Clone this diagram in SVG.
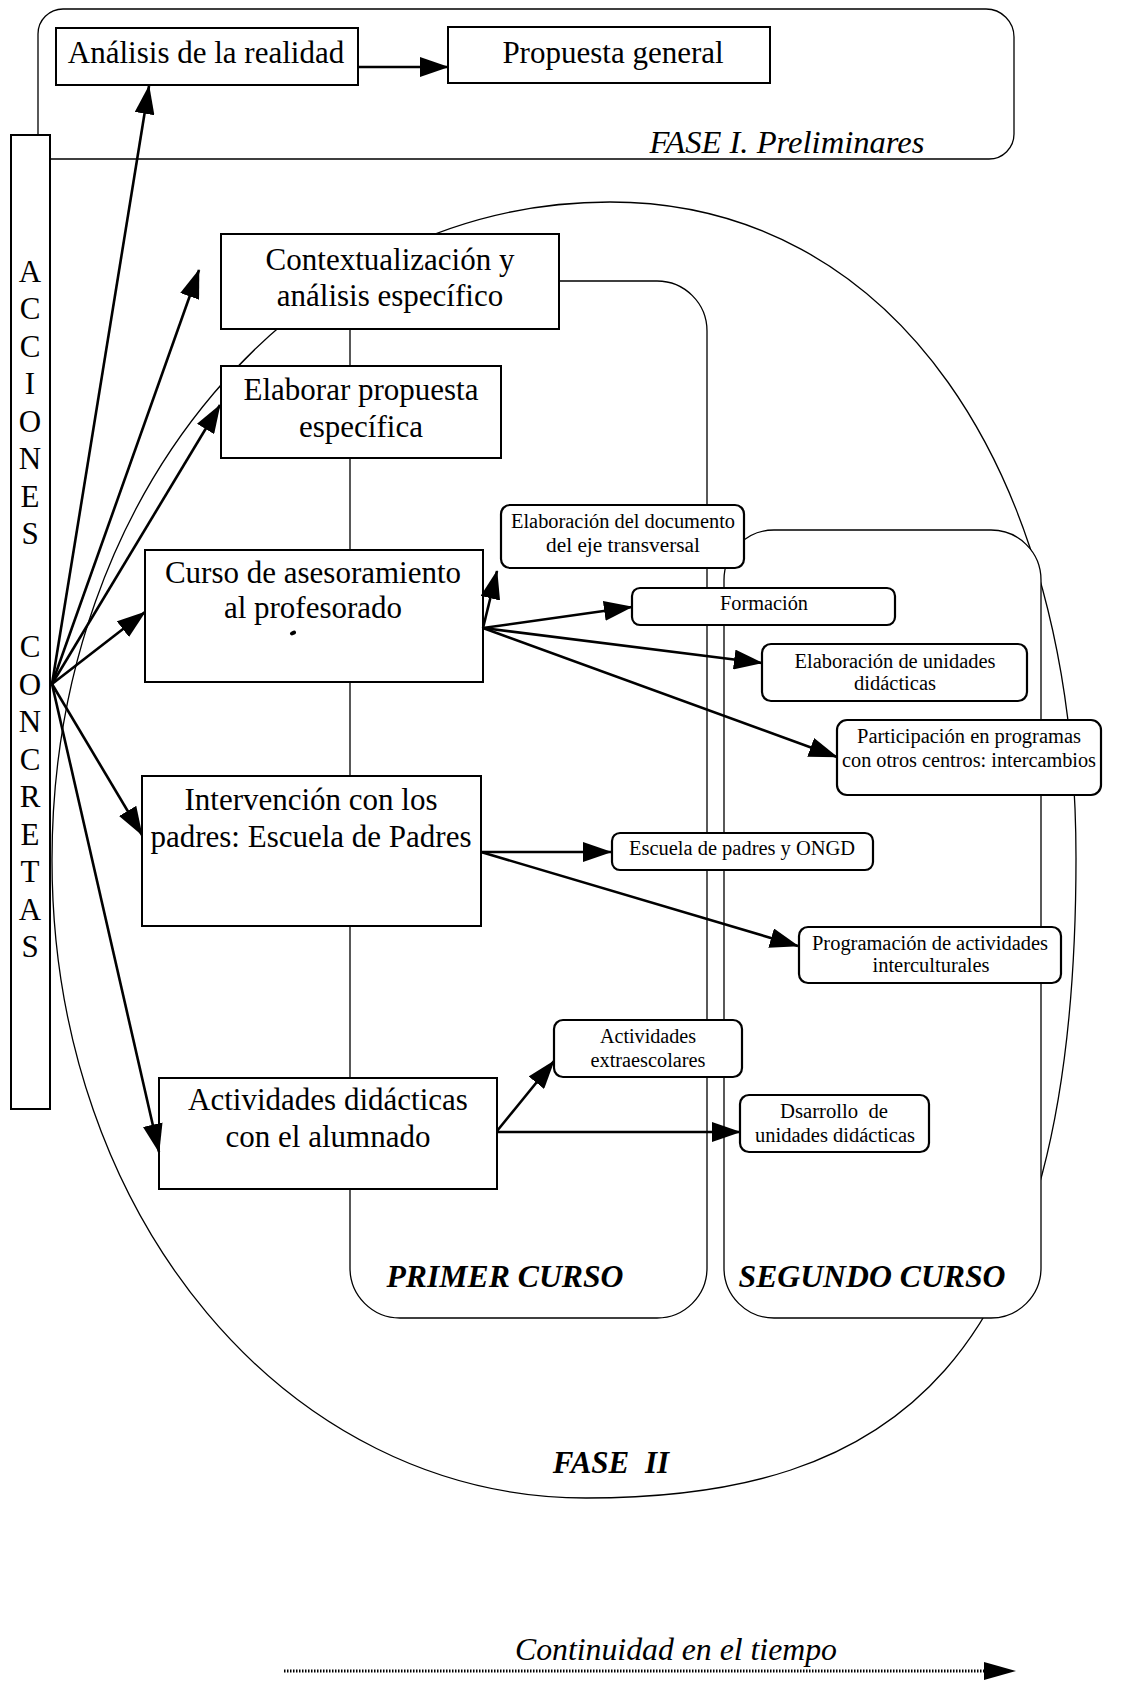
<svg xmlns="http://www.w3.org/2000/svg" width="1144" height="1683" viewBox="0 0 1144 1683">
  <defs>
    <style>
      text { font-family: "Liberation Serif", "Times New Roman", serif; fill: #000; }
      .big { font-size: 31px; text-anchor: middle; }
      .sm { font-size: 20px; text-anchor: middle; }
      .let { font-size: 31px; text-anchor: middle; }
      .it { font-style: italic; }
      .bi { font-style: italic; font-weight: bold; }
      .box { fill: #fff; stroke: #000; stroke-width: 2; }
      .rbox { fill: #fff; stroke: #000; stroke-width: 2.2; }
      .thin { fill: none; stroke: #000; stroke-width: 1.3; }
      .paper { fill: #fff; }
      .arr { stroke: #000; stroke-width: 2.6; fill: none; marker-end: url(#ah); }
    </style>
    <marker id="ah" markerUnits="userSpaceOnUse" markerWidth="29" markerHeight="20" refX="28" refY="10" orient="auto">
      <path d="M0,0 L29,10 L0,20 z" fill="#000"/>
    </marker>
  </defs>

  <rect width="1144" height="1683" fill="#fff"/>

  <!-- Phase I frame (left-bottom corner tucked behind the side bar) -->
  <g id="fase1">
    <path class="thin" d="M50,159 L989,159 A25,25 0 0 0 1014,134 L1014,37 A28,28 0 0 0 986,9 L63,9 A25,25 0 0 0 38,34 L38,136"/>
    <text class="big it" x="787" y="153" textLength="275" lengthAdjust="spacingAndGlyphs">FASE I. Preliminares</text>
  </g>

  <!-- Phase II outline -->
  <g id="fase2">
    <path class="thin" d="M52,860 C52,492 298,202 610,202 C890,202 1076,464 1076,858 C1076,1370 890,1498 586,1498 C287,1498 52,1217 52,860 Z"/>
    <text class="big bi" x="611" y="1473" word-spacing="8">FASE II</text>
  </g>

  <!-- Course columns -->
  <g id="primer-curso">
    <rect class="thin" x="350" y="281" width="357" height="1037" rx="50" ry="50"/>
    <text class="big bi" x="505" y="1287" textLength="237" lengthAdjust="spacingAndGlyphs">PRIMER CURSO</text>
  </g>
  <g id="segundo-curso">
    <rect class="thin paper" x="724" y="530" width="317" height="788" rx="50" ry="50"/>
    <text class="big bi" x="872" y="1287" textLength="267" lengthAdjust="spacingAndGlyphs">SEGUNDO CURSO</text>
  </g>

  <!-- Phase I nodes -->
  <g id="analisis">
    <rect class="box" x="56" y="28" width="302" height="57"/>
    <text class="big" x="206" y="63">Análisis de la realidad</text>
  </g>
  <g id="propuesta-general">
    <rect class="box" x="448" y="27" width="322" height="56"/>
    <text class="big" x="613" y="63">Propuesta general</text>
  </g>

  <!-- Phase II main actions -->
  <g id="contextualizacion">
    <rect class="box" x="221" y="234" width="338" height="95"/>
    <text class="big" x="390" y="270">Contextualización y</text>
    <text class="big" x="390" y="306">análisis específico</text>
  </g>
  <g id="elaborar">
    <rect class="box" x="221" y="366" width="280" height="92"/>
    <text class="big" x="361" y="400">Elaborar propuesta</text>
    <text class="big" x="361" y="437">específica</text>
  </g>
  <g id="curso">
    <rect class="box" x="145" y="550" width="338" height="132"/>
    <text class="big" x="313" y="583">Curso de asesoramiento</text>
    <text class="big" x="313" y="618">al profesorado</text>
    <ellipse cx="293" cy="633" rx="3.2" ry="2" transform="rotate(-25 293 633)" fill="#000"/>
  </g>
  <g id="intervencion">
    <rect class="box" x="142" y="776" width="339" height="150"/>
    <text class="big" x="311" y="810">Intervención con los</text>
    <text class="big" x="311" y="847">padres: Escuela de Padres</text>
  </g>
  <g id="actividades">
    <rect class="box" x="159" y="1078" width="338" height="111"/>
    <text class="big" x="328" y="1110">Actividades didácticas</text>
    <text class="big" x="328" y="1147">con el alumnado</text>
  </g>

  <!-- Concrete tasks -->
  <g id="doc-eje">
    <rect class="rbox" x="501" y="505" width="243" height="63" rx="9"/>
    <text class="sm" x="623" y="528" textLength="224" lengthAdjust="spacingAndGlyphs">Elaboración del documento</text>
    <text class="sm" x="623" y="552" textLength="154" lengthAdjust="spacingAndGlyphs">del eje transversal</text>
  </g>
  <g id="formacion">
    <rect class="rbox" x="632" y="588" width="263" height="37" rx="8"/>
    <text class="sm" x="764" y="610" textLength="88" lengthAdjust="spacingAndGlyphs">Formación</text>
  </g>
  <g id="elab-unidades">
    <rect class="rbox" x="762" y="644" width="265" height="57" rx="9"/>
    <text class="sm" x="895" y="668" textLength="201" lengthAdjust="spacingAndGlyphs">Elaboración de unidades</text>
    <text class="sm" x="895" y="690" textLength="82" lengthAdjust="spacingAndGlyphs">didácticas</text>
  </g>
  <g id="participacion">
    <rect class="rbox" x="837" y="720" width="264" height="75" rx="10"/>
    <text class="sm" x="969" y="743" textLength="224" lengthAdjust="spacingAndGlyphs">Participación en programas</text>
    <text class="sm" x="969" y="767" textLength="254" lengthAdjust="spacingAndGlyphs">con otros centros: intercambios</text>
  </g>
  <g id="escuela-padres">
    <rect class="rbox" x="612" y="833" width="261" height="37" rx="8"/>
    <text class="sm" x="742" y="855" textLength="226" lengthAdjust="spacingAndGlyphs">Escuela de padres y ONGD</text>
  </g>
  <g id="programacion">
    <rect class="rbox" x="799" y="927" width="262" height="56" rx="9"/>
    <text class="sm" x="930" y="950" textLength="236" lengthAdjust="spacingAndGlyphs">Programación de actividades</text>
    <text class="sm" x="931" y="972" textLength="117" lengthAdjust="spacingAndGlyphs">interculturales</text>
  </g>
  <g id="extraescolares">
    <rect class="rbox" x="554" y="1020" width="188" height="57" rx="9"/>
    <text class="sm" x="648" y="1043" textLength="96" lengthAdjust="spacingAndGlyphs">Actividades</text>
    <text class="sm" x="648" y="1067" textLength="115" lengthAdjust="spacingAndGlyphs">extraescolares</text>
  </g>
  <g id="desarrollo">
    <rect class="rbox" x="740" y="1095" width="189" height="57" rx="9"/>
    <text class="sm" x="834" y="1118" textLength="108" lengthAdjust="spacingAndGlyphs" xml:space="preserve">Dsarrollo  de</text>
    <text class="sm" x="835" y="1142" textLength="160" lengthAdjust="spacingAndGlyphs">unidades didácticas</text>
  </g>

  <!-- Side bar -->
  <g id="acciones-concretas">
    <rect class="box" x="11" y="135" width="39" height="974"/>
    <text class="let">
      <tspan x="30" y="282">A</tspan><tspan x="30" y="319">C</tspan><tspan x="30" y="357">C</tspan><tspan x="30" y="394">I</tspan><tspan x="30" y="432">O</tspan><tspan x="30" y="469">N</tspan><tspan x="30" y="507">E</tspan><tspan x="30" y="544">S</tspan>
    </text>
    <text class="let">
      <tspan x="30" y="657">C</tspan><tspan x="30" y="695">O</tspan><tspan x="30" y="732">N</tspan><tspan x="30" y="770">C</tspan><tspan x="30" y="807">R</tspan><tspan x="30" y="845">E</tspan><tspan x="30" y="882">T</tspan><tspan x="30" y="920">A</tspan><tspan x="30" y="957">S</tspan>
    </text>
  </g>

  <!-- Time axis -->
  <g id="continuidad">
    <text class="big it" x="676" y="1660" textLength="322" lengthAdjust="spacingAndGlyphs">Continuidad en el tiempo</text>
  </g>

  <!-- Connectors -->
  <g id="connectors">
    <line class="arr" x1="358" y1="67" x2="448" y2="67"/>
    <line class="arr" x1="52" y1="684" x2="149" y2="86"/>
    <line class="arr" x1="52" y1="684" x2="199" y2="270"/>
    <line class="arr" x1="52" y1="684" x2="220" y2="405"/>
    <line class="arr" x1="52" y1="684" x2="145" y2="612"/>
    <line class="arr" x1="52" y1="684" x2="142" y2="835"/>
    <line class="arr" x1="52" y1="684" x2="159" y2="1152"/>
    <line class="arr" x1="483" y1="628" x2="497" y2="571"/>
    <line class="arr" x1="483" y1="628" x2="632" y2="607"/>
    <line class="arr" x1="483" y1="628" x2="762" y2="663"/>
    <line class="arr" x1="483" y1="628" x2="837" y2="757"/>
    <line class="arr" x1="481" y1="852" x2="611" y2="852"/>
    <line class="arr" x1="481" y1="852" x2="798" y2="946"/>
    <line class="arr" x1="497" y1="1131" x2="554" y2="1061"/>
    <line class="arr" x1="497" y1="1132" x2="740" y2="1132"/>
    <line x1="284" y1="1671" x2="985" y2="1671" stroke="#000" stroke-width="3" stroke-dasharray="1.5 1.5"/>
    <path d="M984,1662 L1016,1671 L984,1680 Z" fill="#000"/>
  </g>
</svg>
